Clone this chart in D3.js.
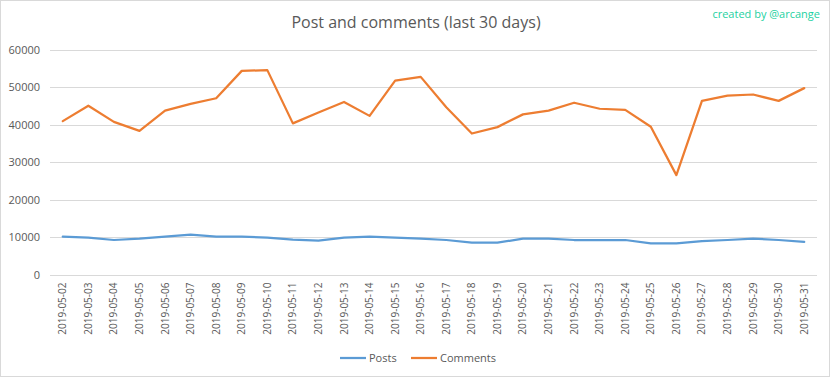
<!DOCTYPE html>
<html>
<head>
<meta charset="utf-8">
<script src="https://cdn.jsdelivr.net/npm/d3@7"></script>
<style>
  body { margin: 0; background: #fff; }
  text { font-family: "Open Sans", "Noto Sans", sans-serif; }
</style>
</head>
<body>
<div id="chart"></div>
<script>
var days = ["2019-05-02","2019-05-03","2019-05-04","2019-05-05","2019-05-06","2019-05-07","2019-05-08","2019-05-09","2019-05-10","2019-05-11",
            "2019-05-12","2019-05-13","2019-05-14","2019-05-15","2019-05-16","2019-05-17","2019-05-18","2019-05-19","2019-05-20","2019-05-21",
            "2019-05-22","2019-05-23","2019-05-24","2019-05-25","2019-05-26","2019-05-27","2019-05-28","2019-05-29","2019-05-30","2019-05-31"];
var posts = [10090, 9820, 9200, 9550, 10090, 10620, 10090, 10090, 9820, 9290,
             9020, 9820, 10090, 9820, 9550, 9200, 8490, 8490, 9550, 9550,
             9200, 9200, 9200, 8310, 8310, 8930, 9200, 9550, 9200, 8670];
var comments = [40900, 45000, 40700, 38300, 43700, 45500, 47000, 54300, 54500, 40300,
                43200, 46000, 42300, 51700, 52700, 44600, 37600, 39300, 42700, 43700,
                45800, 44200, 43900, 39400, 26500, 46300, 47700, 48000, 46300, 49700];
var yTicks = [0, 10000, 20000, 30000, 40000, 50000, 60000];
var seriesNames = ["Posts", "Comments"];
var seriesColors = ["#5b9bd5", "#ed7d31"];

var width = 832, height = 378;
var plotLeft = 50, plotRight = 817, plotTop = 49.5, plotBottom = 274.5;

var svg = d3.select("#chart").append("svg")
  .attr("width", width).attr("height", height);

svg.append("rect")
  .attr("x", 0.5).attr("y", 0.5)
  .attr("width", 829).attr("height", 376)
  .attr("fill", "#fff").attr("stroke", "#d9d9d9");

var x = d3.scaleBand().domain(days).range([plotLeft, plotRight]);
var y = d3.scaleLinear().domain([0, 60000]).range([plotBottom, plotTop]);

// gridlines
svg.append("g").selectAll("line")
  .data(yTicks)
  .enter().append("line")
  .attr("x1", plotLeft).attr("x2", plotRight)
  .attr("y1", function(d){ return Math.round(y(d)) + 0.5; })
  .attr("y2", function(d){ return Math.round(y(d)) + 0.5; })
  .attr("stroke", "#d9d9d9").attr("stroke-width", 1);

// y labels
var yAxis = d3.axisLeft(y).tickValues(yTicks).tickSize(0).tickPadding(0).tickFormat(d3.format("d"));
var gy = svg.append("g").attr("transform", "translate(40,0)").call(yAxis);
gy.select(".domain").remove();
gy.selectAll("text").attr("fill", "#595959").style("font-size", "11px")
  .style("font-family", "'Open Sans', sans-serif");

// x labels
var xAxis = d3.axisBottom(x).tickSize(0).tickPadding(0);
var gx = svg.append("g").attr("transform", "translate(0," + plotBottom + ")").call(xAxis);
gx.select(".domain").remove();
gx.selectAll("text")
  .attr("fill", "#595959").style("font-size", "10px")
  .style("font-family", "'Open Sans', sans-serif")
  .attr("text-anchor", "end")
  .attr("dy", null)
  .attr("y", 0)
  .attr("transform", "translate(3.5,8) rotate(-90)");

// lines
var line = d3.line()
  .x(function(d, i){ return x(days[i]) + x.bandwidth() / 2; })
  .y(function(d){ return y(d); });

[posts, comments].forEach(function(s, i){
  svg.append("path")
    .datum(s)
    .attr("d", line)
    .attr("fill", "none")
    .attr("stroke", seriesColors[i])
    .attr("stroke-width", 2.25)
    .attr("stroke-linejoin", "round")
    .attr("stroke-linecap", "round");
});

// title
svg.append("text")
  .attr("x", 416).attr("y", 28)
  .attr("text-anchor", "middle")
  .attr("fill", "#595959")
  .style("font-size", "16px")
  .text("Post and comments (last 30 days)");

svg.append("text")
  .attr("x", 820).attr("y", 18)
  .attr("text-anchor", "end")
  .attr("fill", "#1dd1a1")
  .style("font-size", "11px")
  .text("created by @arcange");

// legend
var legendX = [340, 411];
var legend = svg.append("g").selectAll("g")
  .data(seriesNames)
  .enter().append("g")
  .attr("transform", function(d, i){ return "translate(" + legendX[i] + ",358)"; });
legend.append("line")
  .attr("x1", 0).attr("x2", 26).attr("y1", 0).attr("y2", 0)
  .attr("stroke", function(d, i){ return seriesColors[i]; })
  .attr("stroke-width", 2.25);
legend.append("text")
  .attr("x", 29).attr("y", 4)
  .attr("fill", "#595959")
  .style("font-size", "11px")
  .text(function(d){ return d; });
</script>
</body>
</html>
